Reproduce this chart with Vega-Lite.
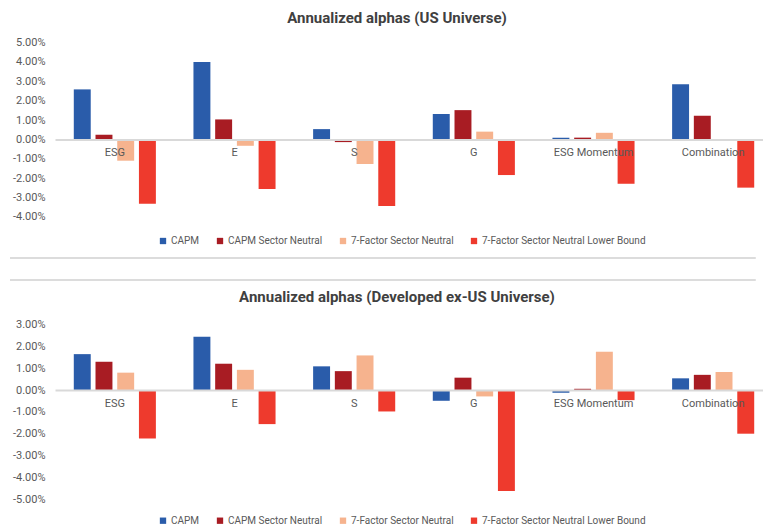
{
  "$schema": "https://vega.github.io/schema/vega-lite/v6.json",
  "padding": {"left": 9, "top": 10.5, "right": -9, "bottom": 0},
  "background": "white",
  "bounds": "flush",
  "spacing": 107.2,
  "config": {
    "view": {"stroke": null},
    "font": "Roboto",
    "title": {"font": "Roboto", "fontSize": 15, "fontWeight": "bold", "color": "#404040", "frame": "group", "anchor": "middle", "dx": -17},
    "axis": {"labelFont": "Roboto", "labelColor": "#595959", "labelFontSize": 11},
    "legend": {"labelFont": "Roboto", "labelColor": "#595959", "labelFontSize": 10, "labelLimit": 400}
  },
  "datasets": {
    "alphas": [
      {"universe": "US", "factor": "ESG", "model": "CAPM", "alpha": 0.0258},
      {"universe": "US", "factor": "ESG", "model": "CAPM Sector Neutral", "alpha": 0.0024},
      {"universe": "US", "factor": "ESG", "model": "7-Factor Sector Neutral", "alpha": -0.0110},
      {"universe": "US", "factor": "ESG", "model": "7-Factor Sector Neutral Lower Bound", "alpha": -0.0332},
      {"universe": "US", "factor": "E", "model": "CAPM", "alpha": 0.0399},
      {"universe": "US", "factor": "E", "model": "CAPM Sector Neutral", "alpha": 0.0103},
      {"universe": "US", "factor": "E", "model": "7-Factor Sector Neutral", "alpha": -0.0033},
      {"universe": "US", "factor": "E", "model": "7-Factor Sector Neutral Lower Bound", "alpha": -0.0256},
      {"universe": "US", "factor": "S", "model": "CAPM", "alpha": 0.0053},
      {"universe": "US", "factor": "S", "model": "CAPM Sector Neutral", "alpha": -0.0014},
      {"universe": "US", "factor": "S", "model": "7-Factor Sector Neutral", "alpha": -0.0127},
      {"universe": "US", "factor": "S", "model": "7-Factor Sector Neutral Lower Bound", "alpha": -0.0344},
      {"universe": "US", "factor": "G", "model": "CAPM", "alpha": 0.0131},
      {"universe": "US", "factor": "G", "model": "CAPM Sector Neutral", "alpha": 0.0151},
      {"universe": "US", "factor": "G", "model": "7-Factor Sector Neutral", "alpha": 0.0040},
      {"universe": "US", "factor": "G", "model": "7-Factor Sector Neutral Lower Bound", "alpha": -0.0184},
      {"universe": "US", "factor": "ESG Momentum", "model": "CAPM", "alpha": 0.0009},
      {"universe": "US", "factor": "ESG Momentum", "model": "CAPM Sector Neutral", "alpha": 0.0009},
      {"universe": "US", "factor": "ESG Momentum", "model": "7-Factor Sector Neutral", "alpha": 0.0034},
      {"universe": "US", "factor": "ESG Momentum", "model": "7-Factor Sector Neutral Lower Bound", "alpha": -0.0229},
      {"universe": "US", "factor": "Combination", "model": "CAPM", "alpha": 0.0285},
      {"universe": "US", "factor": "Combination", "model": "CAPM Sector Neutral", "alpha": 0.0122},
      {"universe": "US", "factor": "Combination", "model": "7-Factor Sector Neutral", "alpha": -0.0005},
      {"universe": "US", "factor": "Combination", "model": "7-Factor Sector Neutral Lower Bound", "alpha": -0.0249},
      {"universe": "DX", "factor": "ESG", "model": "CAPM", "alpha": 0.0165},
      {"universe": "DX", "factor": "ESG", "model": "CAPM Sector Neutral", "alpha": 0.0130},
      {"universe": "DX", "factor": "ESG", "model": "7-Factor Sector Neutral", "alpha": 0.0080},
      {"universe": "DX", "factor": "ESG", "model": "7-Factor Sector Neutral Lower Bound", "alpha": -0.0222},
      {"universe": "DX", "factor": "E", "model": "CAPM", "alpha": 0.0245},
      {"universe": "DX", "factor": "E", "model": "CAPM Sector Neutral", "alpha": 0.0121},
      {"universe": "DX", "factor": "E", "model": "7-Factor Sector Neutral", "alpha": 0.0093},
      {"universe": "DX", "factor": "E", "model": "7-Factor Sector Neutral Lower Bound", "alpha": -0.0156},
      {"universe": "DX", "factor": "S", "model": "CAPM", "alpha": 0.0109},
      {"universe": "DX", "factor": "S", "model": "CAPM Sector Neutral", "alpha": 0.0087},
      {"universe": "DX", "factor": "S", "model": "7-Factor Sector Neutral", "alpha": 0.0159},
      {"universe": "DX", "factor": "S", "model": "7-Factor Sector Neutral Lower Bound", "alpha": -0.0098},
      {"universe": "DX", "factor": "G", "model": "CAPM", "alpha": -0.0049},
      {"universe": "DX", "factor": "G", "model": "CAPM Sector Neutral", "alpha": 0.0057},
      {"universe": "DX", "factor": "G", "model": "7-Factor Sector Neutral", "alpha": -0.0029},
      {"universe": "DX", "factor": "G", "model": "7-Factor Sector Neutral Lower Bound", "alpha": -0.0463},
      {"universe": "DX", "factor": "ESG Momentum", "model": "CAPM", "alpha": -0.0012},
      {"universe": "DX", "factor": "ESG Momentum", "model": "CAPM Sector Neutral", "alpha": 0.0006},
      {"universe": "DX", "factor": "ESG Momentum", "model": "7-Factor Sector Neutral", "alpha": 0.0176},
      {"universe": "DX", "factor": "ESG Momentum", "model": "7-Factor Sector Neutral Lower Bound", "alpha": -0.0046},
      {"universe": "DX", "factor": "Combination", "model": "CAPM", "alpha": 0.0054},
      {"universe": "DX", "factor": "Combination", "model": "CAPM Sector Neutral", "alpha": 0.0070},
      {"universe": "DX", "factor": "Combination", "model": "7-Factor Sector Neutral", "alpha": 0.0083},
      {"universe": "DX", "factor": "Combination", "model": "7-Factor Sector Neutral Lower Bound", "alpha": -0.0200}
    ]
  },
  "vconcat": [
    {
      "title": {"text": "Annualized alphas (US Universe)", "offset": 11},
      "width": 718,
      "height": 174.4,
      "layer": [
        {
          "data": {"name": "alphas"},
          "transform": [{"filter": "datum.universe == 'US'"}],
          "mark": {"type": "bar"},
          "encoding": {
            "x": {"field": "factor", "type": "nominal", "sort": ["ESG", "E", "S", "G", "ESG Momentum", "Combination"],
                  "scale": {"paddingInner": 0.314, "paddingOuter": 0.157},
                  "axis": {"title": null, "orient": "bottom", "offset": -77.5, "ticks": false, "domainColor": "#d9d9d9", "domainWidth": 2, "labelPadding": 7, "labelAngle": 0, "zindex": 1}},
            "xOffset": {"field": "model", "type": "nominal", "sort": ["CAPM", "CAPM Sector Neutral", "7-Factor Sector Neutral", "7-Factor Sector Neutral Lower Bound"],
                        "scale": {"paddingInner": 0.22, "paddingOuter": 0}},
            "y": {"field": "alpha", "type": "quantitative", "scale": {"domain": [-0.04, 0.05], "nice": false},
                  "axis": {"title": null, "values": [-0.04, -0.03, -0.02, -0.01, 0, 0.01, 0.02, 0.03, 0.04, 0.05], "labelExpr": "replace(format(datum.value, '.2%'), '−', '-')", "labelOverlap": false, "labelBound": false, "ticks": false, "domain": false, "grid": false, "labelPadding": 10}},
            "color": {"field": "model", "type": "nominal",
                      "scale": {"domain": ["CAPM", "CAPM Sector Neutral", "7-Factor Sector Neutral", "7-Factor Sector Neutral Lower Bound"], "range": ["#2a5caa", "#a81c23", "#f6b38e", "#ee3a2d"]},
                      "legend": {"title": null, "orient": "none", "legendX": 103, "legendY": 193.5, "direction": "horizontal", "symbolType": "square", "symbolSize": 40, "columnPadding": 15, "labelOffset": 3}}
          }
        },
        {
          "data": {"values": [{}]},
          "mark": {"type": "rule", "color": "#d0d0d0", "strokeWidth": 1.5},
          "encoding": {
            "x": {"datum": -0.0627, "type": "quantitative", "scale": {"domain": [0, 1]}, "axis": null},
            "x2": {"datum": 0.976},
            "y": {"datum": -0.0612, "type": "quantitative",
                  "axis": {"title": null, "values": [-0.04, -0.03, -0.02, -0.01, 0, 0.01, 0.02, 0.03, 0.04, 0.05], "labelExpr": "replace(format(datum.value, '.2%'), '−', '-')", "labelOverlap": false, "labelBound": false, "ticks": false, "domain": false, "grid": false, "labelPadding": 10}}
          }
        },
        {
          "data": {"values": [{}]},
          "mark": {"type": "rule", "color": "#d0d0d0", "strokeWidth": 1.5},
          "encoding": {
            "x": {"datum": -0.0627, "type": "quantitative", "scale": {"domain": [0, 1]}, "axis": null},
            "x2": {"datum": 0.976},
            "y": {"datum": -0.0725, "type": "quantitative",
                  "axis": {"title": null, "values": [-0.04, -0.03, -0.02, -0.01, 0, 0.01, 0.02, 0.03, 0.04, 0.05], "labelExpr": "replace(format(datum.value, '.2%'), '−', '-')", "labelOverlap": false, "labelBound": false, "ticks": false, "domain": false, "grid": false, "labelPadding": 10}}
          }
        }
      ],
      "resolve": {"scale": {"x": "independent"}}
    },
    {
      "title": {"text": "Annualized alphas (Developed ex-US Universe)", "offset": 14},
      "width": 718,
      "height": 174.4,
      "data": {"name": "alphas"},
      "transform": [{"filter": "datum.universe == 'DX'"}],
      "mark": {"type": "bar"},
      "encoding": {
        "x": {"field": "factor", "type": "nominal", "sort": ["ESG", "E", "S", "G", "ESG Momentum", "Combination"],
              "scale": {"paddingInner": 0.314, "paddingOuter": 0.157},
              "axis": {"title": null, "orient": "bottom", "offset": -109, "ticks": false, "domainColor": "#d9d9d9", "domainWidth": 2, "labelPadding": 7, "labelAngle": 0, "zindex": 1}},
        "xOffset": {"field": "model", "type": "nominal", "sort": ["CAPM", "CAPM Sector Neutral", "7-Factor Sector Neutral", "7-Factor Sector Neutral Lower Bound"],
                    "scale": {"paddingInner": 0.22, "paddingOuter": 0}},
        "y": {"field": "alpha", "type": "quantitative", "scale": {"domain": [-0.05, 0.03], "nice": false},
              "axis": {"title": null, "values": [-0.05, -0.04, -0.03, -0.02, -0.01, 0, 0.01, 0.02, 0.03], "labelExpr": "replace(format(datum.value, '.2%'), '−', '-')", "labelOverlap": false, "labelBound": false, "ticks": false, "domain": false, "grid": false, "labelPadding": 10}},
        "color": {"field": "model", "type": "nominal",
                  "scale": {"domain": ["CAPM", "CAPM Sector Neutral", "7-Factor Sector Neutral", "7-Factor Sector Neutral Lower Bound"], "range": ["#2a5caa", "#a81c23", "#f6b38e", "#ee3a2d"]},
                  "legend": {"title": null, "orient": "none", "legendX": 103, "legendY": 191, "direction": "horizontal", "symbolType": "square", "symbolSize": 40, "columnPadding": 15, "labelOffset": 3}}
      }
    }
  ],
  "resolve": {"legend": {"color": "independent"}}
}
